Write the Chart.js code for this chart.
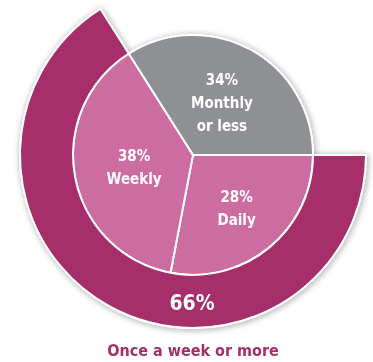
<!DOCTYPE html>
<html>
<head>
<meta charset="utf-8">
<script src="https://cdn.jsdelivr.net/npm/chart.js@4/dist/chart.umd.min.js"></script>
<style>
    html, body { margin: 0; padding: 0; background: #fff; }
    #wrap { position: relative; width: 373px; height: 362px; }
</style>
</head>
<body>
<div id="wrap"><canvas id="freqChart"></canvas></div>
<script>
// Частота: внутренний круг по категориям, внешнее кольцо — суммарная доля
const innerLabels = ['Daily', 'Weekly', 'Monthly\nor less'];
const innerValues = [28, 38, 34];
const ringLabels = ['Once a week or more', ''];
const ringValues = [66, 34];

const RING = '#a52e6b';
const PINK = '#cd6ca0';
const GRAY = '#8f9093';
const FONT = '"DejaVu Sans Condensed", "Liberation Sans Narrow", sans-serif';

// Мягкая тень под всеми сегментами: сначала рисуем дуги с тенью, потом обычный проход поверх
const shadowPlugin = {
    id: 'shadowPass',
    beforeDatasetsDraw(chart) {
        const ctx = chart.ctx;
        ctx.save();
        ctx.shadowColor = 'rgba(0, 0, 0, 0.3)';
        ctx.shadowBlur = 7;
        ctx.shadowOffsetX = 1;
        ctx.shadowOffsetY = 1;
        chart.data.datasets.forEach((ds, i) => {
            chart.getDatasetMeta(i).data.forEach((arc, j) => {
                if (ds.backgroundColor[j] !== 'transparent') arc.draw(ctx, chart.chartArea);
            });
        });
        ctx.restore();
    }
};

// Подписи процентов прямо на сегментах
const labelPlugin = {
    id: 'sliceLabels',
    afterDatasetsDraw(chart) {
        const ctx = chart.ctx;
        ctx.save();
        ctx.fillStyle = '#fff';
        ctx.textAlign = 'center';
        ctx.textBaseline = 'middle';

        // внутренний круг
        const inner = chart.getDatasetMeta(1);
        const rFactor = [0.57, 0.5, 0.5];
        inner.data.forEach((arc, i) => {
            const p = arc.getProps(['x', 'y', 'startAngle', 'endAngle', 'outerRadius'], true);
            const mid = (p.startAngle + p.endAngle) / 2;
            const r = p.outerRadius * rFactor[i];
            const lines = [innerValues[i] + '%'].concat(innerLabels[i].split('\n'));
            const lh = 23;
            const cx = p.x + Math.cos(mid) * r;
            const cy = p.y + Math.sin(mid) * r - (lines.length - 1) * lh / 2 + 2;
            ctx.font = 'bold 15px ' + FONT;
            lines.forEach((t, k) => ctx.fillText(t, cx, cy + k * lh));
        });

        // внешнее кольцо — значение снизу по центру
        const ring = chart.getDatasetMeta(0).data[0];
        const q = ring.getProps(['x', 'y', 'innerRadius', 'outerRadius'], true);
        ctx.font = 'bold 21px ' + FONT;
        ctx.fillText(ringValues[0] + '%', q.x - 1, q.y + (q.innerRadius + q.outerRadius) / 2 + 3);
        ctx.restore();
    }
};

new Chart(document.getElementById('freqChart'), {
    type: 'pie',
    data: {
        labels: innerLabels,
        datasets: [
            {
                label: 'ring',
                data: ringValues,
                weight: 53,
                backgroundColor: [RING, 'transparent'],
                borderColor: ['#fff', 'transparent'],
                borderWidth: [2, 0]
            },
            {
                label: 'inner',
                data: innerValues,
                weight: 120,
                backgroundColor: [PINK, PINK, GRAY],
                borderColor: '#fff',
                borderWidth: 2
            }
        ]
    },
    options: {
        responsive: true,
        maintainAspectRatio: false,
        animation: false,
        events: [],
        rotation: 90,
        radius: 173,
        layout: { padding: { left: 13, right: 0, top: 0, bottom: 0 } },
        plugins: {
            legend: { display: false },
            tooltip: { enabled: false },
            title: {
                display: true,
                position: 'bottom',
                text: ringLabels[0],
                color: RING,
                font: { family: FONT, size: 16, weight: 'bold', lineHeight: 1.2 },
                padding: { top: 32, bottom: 1 }
            }
        }
    },
    plugins: [shadowPlugin, labelPlugin]
});
</script>
</body>
</html>
